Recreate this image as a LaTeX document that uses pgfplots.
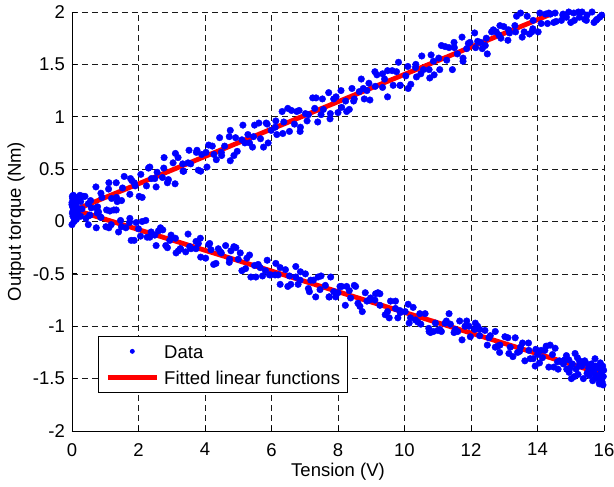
\documentclass[border=0pt]{standalone}
\usepackage{fontspec}
\setmainfont{Liberation Sans}
\usepackage{pgfplots}
\pgfplotsset{compat=1.18}
\newcommand{\ff}{\fontsize{18.5bp}{22bp}\selectfont}
\pgfplotsset{
  dotlegend/.style={legend image code/.code={\path (0bp,0bp) (49bp,0bp); \draw[##1, mark size=2bp] plot coordinates {(24.5bp,0bp)};}},
  linelegend/.style={legend image code/.code={\draw[##1] (0bp,0bp) -- (49bp,0bp);}},
}

\begin{document}
\begin{tikzpicture}
\useasboundingbox (-72bp,-56bp) rectangle (542bp,431bp);
\begin{axis}[
  at={(0,0)}, anchor=south west,
  scale only axis, width=532bp, height=419bp,
  xmin=0, xmax=16, ymin=-2, ymax=2,
  xtick={0,2,4,6,8,10,12,14,16},
  ytick={-2,-1.5,-1,-0.5,0,0.5,1,1.5,2},
  axis lines*=left,
  axis line style={black, line width=0.8bp},
  tick align=inside, major tick length=5bp,
  tick style={black, line width=0.8bp},
  grid=major,
  major grid style={black!90, line width=0.7bp, dash pattern=on 6bp off 4bp},
  /pgf/number format/assume math mode=true,
  tick label style={font=\ff},
  xticklabel style={anchor=north, inner sep=0pt, yshift=-12bp},
  yticklabel style={anchor=east, inner sep=0pt, xshift=-7bp},
  xlabel={Tension (V)}, ylabel={Output torque (Nm)},
  every axis x label/.style={at={(axis description cs:0.5,-0.109)}, anchor=base, font=\ff},
  every axis y label/.style={at={(axis description cs:-0.0959,0.5)}, rotate=90, anchor=base, font=\ff},
  legend style={at={(axis description cs:0.0489,0.0907)}, anchor=south west,
    draw=black, line width=0.8bp, fill=white, font=\ff,
    inner xsep=7bp, inner ysep=8.5bp, row sep=12.5bp, column sep=5bp,
    nodes={inner sep=0pt, text height=13.5bp, text depth=0bp}},
  legend cell align=left,
]
% measured points, upper branch (rising) and lower branch (falling)
\addplot[only marks, mark=*, mark size=3.3bp, color=blue, mark options={draw=blue, fill=blue}, dotlegend]
coordinates {
(0.00,0.18) (0.02,0.22) (0.03,0.05) (0.05,0.12) (0.01,0.08) (0.04,0.25) (0.06,0.00) (0.08,0.16) (0.00,-0.03) (0.10,0.20)
(0.12,0.09) (0.02,0.14) (0.07,0.06) (0.14,0.23) (0.05,0.19) (0.09,0.03) (0.15,0.13) (0.01,0.24) (0.11,0.17) (0.03,0.10)
(0.18,0.07) (0.06,0.21)
(0.02,0.15) (0.07,0.03) (0.24,0.25) (0.30,0.12) (0.39,0.24) (0.53,0.06) (0.56,0.20) (0.72,0.33) (0.77,0.14) (0.90,0.23)
(1.04,0.11) (1.10,0.31) (1.19,0.22) (1.33,0.37) (1.36,0.19) (1.52,0.32) (1.57,0.43) (1.74,0.26) (1.80,0.39) (1.90,0.34)
(2.02,0.24) (2.07,0.45) (2.24,0.34) (2.30,0.51) (2.39,0.41) (2.53,0.33) (2.56,0.47) (2.72,0.42) (2.77,0.61) (2.90,0.40)
(3.04,0.56) (3.10,0.36) (3.19,0.61) (3.33,0.55) (3.36,0.48) (3.52,0.68) (3.57,0.55) (3.74,0.66) (3.80,0.49) (3.90,0.64)
(4.03,0.66) (4.06,0.52) (4.22,0.72) (4.27,0.64) (4.44,0.80) (4.50,0.63) (4.59,0.72) (4.73,0.81) (4.76,0.58) (4.92,0.80)
(4.97,0.67) (5.14,0.92) (5.20,0.75) (5.29,0.83) (5.43,0.71) (5.46,0.81) (5.62,0.94) (5.67,0.79) (5.84,0.94) (5.90,0.75)
(5.99,0.87) (6.13,0.96) (6.16,0.83) (6.32,1.05) (6.37,0.95) (6.54,0.86) (6.60,1.06) (6.69,0.93) (6.83,1.06) (6.86,0.86)
(7.02,1.03) (7.07,0.96) (7.24,1.18) (7.30,1.08) (7.39,0.95) (7.53,1.17) (7.56,1.07) (7.72,1.23) (7.77,1.03) (7.94,1.19)
(8.00,1.04) (8.09,1.25) (8.23,1.15) (8.26,1.05) (8.42,1.27) (8.47,1.15) (8.64,1.24) (8.70,1.36) (8.79,1.17) (8.93,1.32)
(8.96,1.16) (9.12,1.29) (9.17,1.40) (9.34,1.28) (9.40,1.36) (9.49,1.19) (9.63,1.44) (9.66,1.30) (9.82,1.52) (9.87,1.30)
(10.04,1.39) (10.10,1.48) (10.19,1.31) (10.33,1.47) (10.36,1.38) (10.52,1.58) (10.57,1.45) (10.74,1.45) (10.80,1.59) (10.89,1.40)
(11.03,1.56) (11.06,1.45) (11.22,1.67) (11.27,1.54) (11.44,1.45) (11.50,1.66) (11.59,1.60) (11.73,1.76) (11.76,1.56) (11.92,1.70)
(11.97,1.71) (12.14,1.66) (12.20,1.72) (12.29,1.71) (12.43,1.68) (12.46,1.75) (12.62,1.81) (12.67,1.83) (12.84,1.78) (12.90,1.75)
(12.99,1.86) (13.13,1.83) (13.16,1.80) (13.32,1.87) (13.37,1.96) (13.54,1.76) (13.60,1.81) (13.69,1.96) (13.83,1.81) (13.86,1.84)
(14.02,1.81) (14.07,1.99) (14.24,1.98) (14.30,1.89) (14.39,1.98) (14.53,1.99) (14.56,1.91) (14.72,1.92) (14.77,1.98) (14.94,2.00)
(15.00,1.90) (15.09,1.99) (15.23,2.00) (15.26,1.95) (15.42,1.93) (15.47,1.92) (15.64,2.00) (15.70,1.90) (15.79,1.93) (15.93,1.97)
(0.11,0.04) (0.34,0.24) (0.49,0.17) (0.76,0.08) (0.87,0.27) (1.11,0.37) (1.34,0.23) (1.49,0.20) (1.76,0.41) (1.87,0.37)
(2.11,0.23) (2.34,0.52) (2.49,0.41) (2.76,0.51) (2.87,0.37) (3.11,0.65) (3.34,0.48) (3.49,0.56) (3.76,0.68) (3.87,0.48)
(4.11,0.73) (4.34,0.59) (4.49,0.66) (4.76,0.87) (4.87,0.63) (5.11,0.78) (5.34,0.75) (5.49,0.92) (5.76,0.71) (5.87,0.93)
(6.11,0.90) (6.34,0.84) (6.49,1.08) (6.76,1.05) (6.87,0.90) (7.11,1.02) (7.34,1.18) (7.49,1.02) (7.76,0.98) (7.87,1.17)
(8.11,1.09) (8.34,1.07) (8.49,1.17) (8.76,1.27) (8.87,1.25) (9.11,1.43) (9.34,1.41) (9.49,1.44) (9.76,1.43) (9.87,1.30)
(10.11,1.27) (10.34,1.50) (10.49,1.41) (10.76,1.37) (10.87,1.53) (11.11,1.68) (11.34,1.66) (11.49,1.71) (11.76,1.53) (11.87,1.65)
(12.11,1.80) (12.34,1.65) (12.49,1.60) (12.76,1.81) (12.87,1.87) (13.11,1.73) (13.34,1.81) (13.49,1.99) (13.76,1.79) (13.87,1.92)
(14.11,1.89) (14.34,1.99) (14.49,1.90) (14.76,1.97) (14.87,1.95) (15.11,1.92) (15.34,2.00) (15.49,1.97) (15.76,1.92) (15.87,1.95)
(0.00,0.16) (0.13,0.02) (0.20,0.12) (0.26,0.19) (0.42,0.03) (0.54,0.06) (0.58,0.13) (0.73,-0.06) (0.80,0.09) (0.86,0.04)
(1.02,-0.05) (1.14,0.10) (1.18,-0.03) (1.33,0.11) (1.40,-0.10) (1.46,0.01) (1.62,-0.06) (1.74,0.03) (1.78,-0.18) (1.93,-0.01)
(2.00,-0.07) (2.06,-0.14) (2.22,0.01) (2.34,-0.15) (2.38,-0.10) (2.53,-0.23) (2.60,-0.09) (2.66,-0.06) (2.82,-0.23) (2.94,-0.18)
(2.98,-0.13) (3.13,-0.30) (3.20,-0.28) (3.26,-0.26) (3.42,-0.29) (3.54,-0.24) (3.58,-0.26) (3.73,-0.19) (3.80,-0.21) (3.86,-0.16)
(4.02,-0.35) (4.14,-0.21) (4.18,-0.27) (4.33,-0.40) (4.40,-0.26) (4.46,-0.29) (4.62,-0.23) (4.74,-0.36) (4.78,-0.28) (4.93,-0.25)
(5.00,-0.36) (5.06,-0.30) (5.22,-0.45) (5.34,-0.32) (5.38,-0.53) (5.53,-0.53) (5.60,-0.41) (5.66,-0.44) (5.82,-0.47) (5.94,-0.51)
(5.98,-0.51) (6.13,-0.40) (6.20,-0.51) (6.26,-0.60) (6.42,-0.46) (6.54,-0.52) (6.58,-0.60) (6.73,-0.43) (6.80,-0.60) (6.86,-0.56)
(7.02,-0.50) (7.14,-0.67) (7.18,-0.56) (7.33,-0.72) (7.40,-0.53) (7.46,-0.65) (7.62,-0.61) (7.74,-0.72) (7.78,-0.53) (7.93,-0.72)
(8.00,-0.68) (8.06,-0.62) (8.22,-0.80) (8.34,-0.66) (8.38,-0.73) (8.53,-0.62) (8.60,-0.78) (8.66,-0.81) (8.82,-0.68) (8.94,-0.75)
(8.98,-0.73) (9.13,-0.69) (9.20,-0.68) (9.26,-0.69) (9.42,-0.89) (9.54,-0.92) (9.58,-0.76) (9.73,-0.76) (9.80,-0.92) (9.86,-0.85)
(10.02,-0.86) (10.14,-0.97) (10.18,-0.92) (10.33,-0.94) (10.40,-0.96) (10.46,-0.88) (10.62,-0.88) (10.74,-1.05) (10.78,-1.06) (10.93,-0.97)
(11.00,-1.04) (11.06,-1.03) (11.22,-0.97) (11.34,-0.88) (11.38,-0.98) (11.53,-1.03) (11.60,-1.05) (11.66,-0.95) (11.82,-1.00) (11.94,-1.00)
(11.98,-1.10) (12.13,-0.97) (12.20,-1.00) (12.26,-1.03) (12.42,-1.04) (12.54,-1.11) (12.58,-1.09) (12.73,-1.20) (12.80,-1.19) (12.86,-1.25)
(13.02,-1.10) (13.14,-1.26) (13.18,-1.20) (13.33,-1.11) (13.40,-1.25) (13.46,-1.24) (13.62,-1.33) (13.74,-1.23) (13.78,-1.31) (13.93,-1.38)
(14.00,-1.27) (14.06,-1.35) (14.22,-1.23) (14.34,-1.39) (14.38,-1.18) (14.53,-1.21) (14.60,-1.34) (14.66,-1.33) (14.82,-1.32) (14.94,-1.32)
(14.98,-1.40) (15.13,-1.26) (15.20,-1.30) (15.26,-1.33) (15.42,-1.33) (15.54,-1.40) (15.58,-1.39) (15.73,-1.49) (15.80,-1.49) (15.86,-1.55)
(0.11,0.17) (0.26,0.05) (0.49,-0.03) (0.73,0.13) (0.87,0.04) (1.11,-0.06) (1.26,0.11) (1.49,-0.05) (1.73,-0.01) (1.87,-0.18)
(2.11,0.00) (2.26,-0.15) (2.49,-0.13) (2.73,-0.08) (2.87,-0.25) (3.11,-0.16) (3.26,-0.26) (3.49,-0.12) (3.73,-0.26) (3.87,-0.34)
(4.11,-0.22) (4.26,-0.41) (4.49,-0.30) (4.73,-0.39) (4.87,-0.24) (5.11,-0.47) (5.26,-0.35) (5.49,-0.42) (5.73,-0.52) (5.87,-0.37)
(6.11,-0.51) (6.26,-0.44) (6.49,-0.62) (6.73,-0.53) (6.87,-0.48) (7.11,-0.64) (7.26,-0.56) (7.49,-0.52) (7.73,-0.72) (7.87,-0.67)
(8.11,-0.62) (8.26,-0.62) (8.49,-0.61) (8.73,-0.86) (8.87,-0.76) (9.11,-0.75) (9.26,-0.80) (9.49,-0.86) (9.73,-0.83) (9.87,-0.87)
(10.11,-0.79) (10.26,-0.82) (10.49,-0.98) (10.73,-1.02) (10.87,-1.05) (11.11,-1.05) (11.26,-0.95) (11.49,-1.06) (11.73,-1.13) (11.87,-0.95)
(12.11,-1.03) (12.26,-1.09) (12.49,-1.18) (12.73,-1.05) (12.87,-1.18) (13.11,-1.11) (13.26,-1.29) (13.49,-1.20) (13.73,-1.16) (13.87,-1.31)
(14.11,-1.23) (14.26,-1.19) (14.49,-1.39) (14.73,-1.34) (14.87,-1.28) (15.11,-1.48) (15.26,-1.37) (15.49,-1.45) (15.73,-1.31) (15.87,-1.54)
(14.15,-1.30) (14.45,-1.27) (14.62,-1.41) (14.78,-1.36) (14.95,-1.44) (15.05,-1.36) (15.16,-1.41) (15.22,-1.46) (15.33,-1.38) (15.38,-1.50)
(15.45,-1.35) (15.52,-1.44) (15.56,-1.47) (15.62,-1.36) (15.66,-1.52) (15.70,-1.42) (15.75,-1.38) (15.78,-1.47) (15.83,-1.40) (15.85,-1.51)
(15.89,-1.35) (15.91,-1.45) (15.94,-1.53) (15.96,-1.38) (15.98,-1.48) (15.99,-1.42) (15.97,-1.56) (15.92,-1.40) (15.88,-1.47) (15.68,-1.44)
(13.95,-1.22) (13.55,-1.16) (14.88,-1.41) (15.02,-1.50)
};
\addlegendentry{Data}
% fitted lines
\addplot[red, line width=4.8bp, linelegend]
coordinates {(0.24,0.13) (14.56,2.00)};
\addlegendentry{Fitted linear functions}
\addplot[red, line width=4.8bp, forget plot]
coordinates {(0.00,0.12) (16.00,-1.46)};
\end{axis}
\end{tikzpicture}
\end{document}
